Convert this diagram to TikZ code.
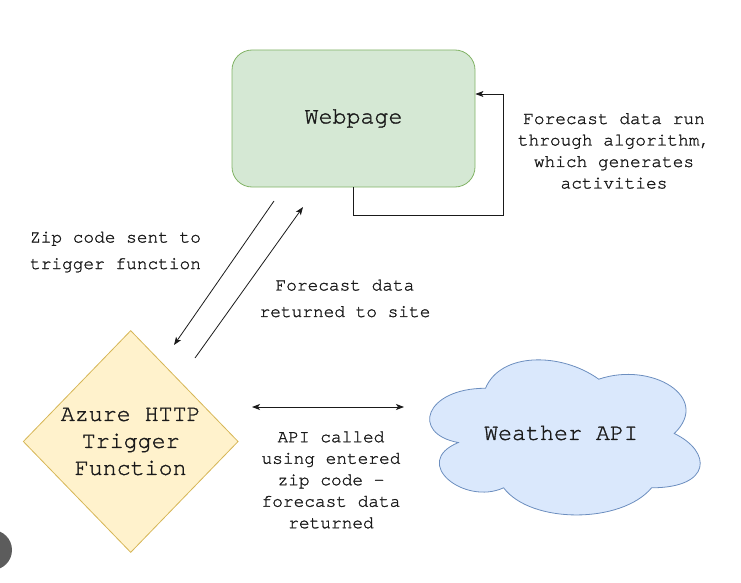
\documentclass[tikz,border=0pt]{standalone}
\usepackage{fontspec}
\setmainfont{texgyrecursor-regular.otf}[FakeBold=1.3]
\usetikzlibrary{arrows.meta,shapes.geometric}
\definecolor{webfill}{HTML}{D5E8D4}
\definecolor{webline}{HTML}{82B366}
\definecolor{funcfill}{HTML}{FFF2CC}
\definecolor{funcline}{HTML}{D6B656}
\definecolor{apifill}{HTML}{DAE8FC}
\definecolor{apiline}{HTML}{6C8EBF}
\definecolor{inkgrey}{HTML}{1A1A1A}
\definecolor{dotgrey}{HTML}{5C5C5C}
\begin{document}
\begin{tikzpicture}
[x=1pt,y=-1pt,
bignode/.style={text=inkgrey,font=\fontsize{23.3}{27}\selectfont},
webnode/.style={bignode,rectangle,rounded corners=20pt,draw=webline,fill=webfill,line width=0.8pt,minimum width=243pt,minimum height=137pt},
funcnode/.style={bignode,diamond,draw=funcline,fill=funcfill,line width=0.8pt,inner sep=0pt,minimum width=215pt,minimum height=222pt,align=center},
lbl/.style={text=inkgrey,align=center,font=\fontsize{17.8}{21.5}\selectfont},
widelbl/.style={lbl,font=\fontsize{17.8}{26.5}\selectfont},
arr/.style={-{Stealth[length=8pt,width=6pt,inset=2pt]},line width=0.8pt,draw=inkgrey},
dblarr/.style={{Stealth[length=8pt,width=6pt,inset=2pt]}-{Stealth[length=8pt,width=6pt,inset=2pt]},line width=0.8pt,draw=inkgrey}]

\useasboundingbox (0,0) rectangle (741,583);
\clip (0,0) rectangle (741,583);

\draw[draw=apiline,fill=apifill,line width=0.8pt] (485.5,388.25)
  .. controls (425.1,388.25) and (410,433.5) .. (458.3,442.55)
  .. controls (410,462.5) and (464.4,505.9) .. (503.6,487.8)
  .. controls (530.8,524) and (621.4,524) .. (651.6,487.8)
  .. controls (712,487.8) and (712,451.6) .. (674.25,433.5)
  .. controls (712,397.3) and (651.6,361.1) .. (598.75,379.2)
  .. controls (561,352.05) and (500.6,352.05) .. (485.5,388.25) -- cycle;

\node (web) at (353.5,118.5) [webnode] {Webpage};
\node (func) at (130.7,441.5) [funcnode] {Azure HTTP\\Trigger\\Function};
\node (api) at (561,433) [bignode] {Weather API};

\node (looplbl) at (614,151) [lbl] {Forecast data run\\through algorithm,\\which generates\\activities};
\node (ziplbl) at (115.5,252) [widelbl] {Zip code sent to\\trigger function};
\node (retlbl) at (345,298.5) [widelbl] {Forecast data\\returned to site};
\node (apilbl) at (331,480) [lbl] {API called\\using entered\\zip code -\\forecast data\\returned};

\coordinate (loopc) at (503,215);
\coordinate (zipa) at (274,201);
\coordinate (zipb) at (174,345);
\coordinate (reta) at (195,358);
\coordinate (retb) at (303,207);
\coordinate (calla) at (252,407);
\coordinate (callb) at (404,407);

\draw[arr] (web.south) |- (loopc) |- ([yshift=24.5pt]web.east);
\foreach \from/\to in {zipa/zipb,reta/retb}
	\draw[arr] (\from) -- (\to);
\draw[dblarr] (calla) -- (callb);

\fill[dotgrey] (-8,550) circle (20pt);

\end{tikzpicture}
\end{document}
